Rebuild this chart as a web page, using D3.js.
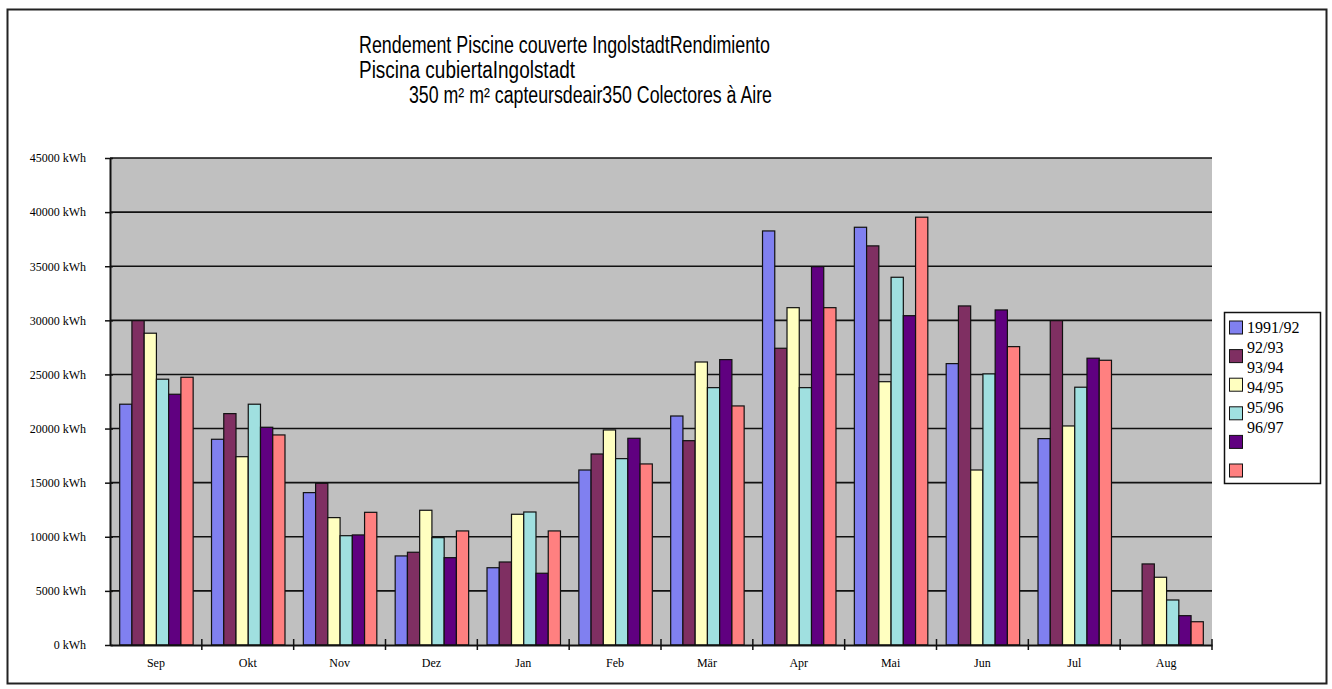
<!DOCTYPE html>
<html>
<head>
<meta charset="utf-8">
<script src="https://cdn.jsdelivr.net/npm/d3@7"></script>
<style>
  body { margin: 0; background: #fff; }
  svg { display: block; }
  .tick-label { font-family: "Liberation Serif", "Times New Roman", serif; font-size: 12px; fill: #000; }
</style>
</head>
<body>
<div id="chart"></div>
<script>
var months = ['Sep', 'Okt', 'Nov', 'Dez', 'Jan', 'Feb', 'Mär', 'Apr', 'Mai', 'Jun', 'Jul', 'Aug'];
var seasons = ['1991/92', '92/93', '93/94', '94/95', '95/96', '96/97'];
var yTicks = [0, 5000, 10000, 15000, 20000, 25000, 30000, 35000, 40000, 45000];

// kWh per month, one array per season
var s9192 = [22250, 19010, 14080, 8230, 7140, 16170, 21160, 38260, 38600, 26000, 19070, null];
var s9293 = [29970, 21380, 14940, 8570, 7670, 17650, 18880, 27420, 36880, 31330, 29970, 7490];
var s9394 = [28810, 17400, 11770, 12450, 12080, 19870, 26150, 31170, 24330, 16170, 20240, 6260];
var s9495 = [24560, 22250, 10100, 9920, 12290, 17220, 23780, 23780, 33980, 25050, 23820, 4160];
var s9596 = [23170, 20120, 10170, 8070, 6630, 19100, 26370, 34960, 30430, 30960, 26500, 2710];
var s9697 = [24740, 19410, 12260, 10540, 10540, 16730, 22090, 31170, 39530, 27570, 26310, 2150];
var seriesValues = [s9192, s9293, s9394, s9495, s9596, s9697];
var colors = ['#8080f0', '#7f2f62', '#ffffc0', '#a0e0e0', '#600080', '#ff8080'];

var W = 1332, H = 689;
var plot = { left: 110, right: 1212, top: 158, bottom: 645 };

var svg = d3.select('#chart').append('svg')
  .attr('width', W)
  .attr('height', H);

// outer frame
svg.append('rect')
  .attr('x', 7.5).attr('y', 9.5)
  .attr('width', 1319).attr('height', 674)
  .attr('fill', '#fff')
  .attr('stroke', '#222')
  .attr('stroke-width', 2);

// title
var titleLines = [
  { text: 'Rendement Piscine couverte IngolstadtRendimiento', x: 359, y: 53, len: 411 },
  { text: 'Piscina cubiertaIngolstadt', x: 359, y: 78, len: 216 },
  { text: '350 m² m² capteursdeair350 Colectores à Aire', x: 409, y: 103, len: 363 }
];
svg.selectAll('text.title').data(titleLines)
  .enter().append('text')
  .attr('class', 'title')
  .attr('x', function(d) { return d.x; })
  .attr('y', function(d) { return d.y; })
  .attr('textLength', function(d) { return d.len; })
  .attr('lengthAdjust', 'spacingAndGlyphs')
  .style('font-family', '"Liberation Sans", Arial, sans-serif')
  .style('font-size', '23px')
  .text(function(d) { return d.text; });

var x0 = d3.scaleBand()
  .domain(months)
  .range([plot.left, plot.right])
  .paddingInner(0.2)
  .paddingOuter(0.1);

var x1 = d3.scaleBand()
  .domain(seasons)
  .range([0, x0.bandwidth()]);

var y = d3.scaleLinear()
  .domain([0, 45000])
  .range([plot.bottom, plot.top]);

// plot background
svg.append('rect')
  .attr('x', plot.left).attr('y', plot.top)
  .attr('width', plot.right - plot.left)
  .attr('height', plot.bottom - plot.top)
  .attr('fill', '#c0c0c0');

// gridlines
svg.append('g')
  .selectAll('line').data(yTicks.slice(1))
  .enter().append('line')
  .attr('x1', plot.left).attr('x2', plot.right)
  .attr('y1', function(d) { return y(d); })
  .attr('y2', function(d) { return y(d); })
  .attr('stroke', '#111')
  .attr('stroke-width', 1.6);

// bars
var groups = svg.append('g').selectAll('g').data(months)
  .enter().append('g')
  .attr('transform', function(m) { return 'translate(' + x0(m) + ',0)'; });

groups.selectAll('rect')
  .data(function(m, i) {
    return seasons.map(function(s, j) { return { season: s, value: seriesValues[j][i], color: colors[j] }; })
      .filter(function(d) { return d.value != null; });
  })
  .enter().append('rect')
  .attr('x', function(d) { return x1(d.season) + 0.5; })
  .attr('y', function(d) { return y(d.value); })
  .attr('width', x1.bandwidth())
  .attr('height', function(d) { return y(0) - y(d.value); })
  .attr('fill', function(d) { return d.color; })
  .attr('stroke', '#111')
  .attr('stroke-width', 1.2);

// y axis
var yAxis = d3.axisLeft(y)
  .tickValues(yTicks)
  .tickSizeInner(5)
  .tickSizeOuter(0)
  .tickPadding(19)
  .tickFormat(function(d) { return d + ' kWh'; });

var gy = svg.append('g')
  .attr('transform', 'translate(' + plot.left + ',0)')
  .call(yAxis);
gy.select('.domain').attr('stroke', '#111').attr('stroke-width', 2);
gy.selectAll('.tick line').attr('x2', 3).attr('x1', -5).attr('stroke', '#111').attr('stroke-width', 1.5);
gy.selectAll('.tick text').attr('class', 'tick-label');

// x axis
var xAxis = d3.axisBottom(x0).tickSize(0).tickPadding(13);
var gx = svg.append('g')
  .attr('transform', 'translate(0,' + plot.bottom + ')')
  .call(xAxis);
gx.select('.domain').attr('stroke', '#111').attr('stroke-width', 2);
gx.selectAll('.tick text').attr('class', 'tick-label');
gx.attr('font-size', null).attr('font-family', null);
gy.attr('font-size', null).attr('font-family', null);

// category separator ticks
var sepX = months.map(function(m) { return x0(m) - x0.step() * x0.paddingInner() / 2; }).slice(1);
sepX.push(plot.right);
svg.append('g').selectAll('line').data(sepX)
  .enter().append('line')
  .attr('x1', function(d) { return d; })
  .attr('x2', function(d) { return d; })
  .attr('y1', plot.bottom - 6)
  .attr('y2', plot.bottom + 5)
  .attr('stroke', '#111')
  .attr('stroke-width', 1.5);

// legend
var legend = svg.append('g');
legend.append('rect')
  .attr('x', 1224.5).attr('y', 312.5)
  .attr('width', 96).attr('height', 171)
  .attr('fill', '#fff')
  .attr('stroke', '#111')
  .attr('stroke-width', 1.5);

legend.selectAll('rect.sw').data(seasons)
  .enter().append('rect')
  .attr('class', 'sw')
  .attr('x', 1229.5)
  .attr('y', function(d, i) { return 321 + i * 28.6; })
  .attr('width', 13).attr('height', 13)
  .attr('fill', function(d, i) { return colors[i]; })
  .attr('stroke', '#111')
  .attr('stroke-width', 1);

legend.selectAll('text').data(seasons)
  .enter().append('text')
  .attr('x', 1247)
  .attr('y', function(d, i) { return 327 + i * 20; })
  .attr('dy', '0.35em')
  .style('font-family', '"Liberation Serif", "Times New Roman", serif')
  .style('font-size', '16px')
  .text(function(d) { return d; });
</script>
</body>
</html>
